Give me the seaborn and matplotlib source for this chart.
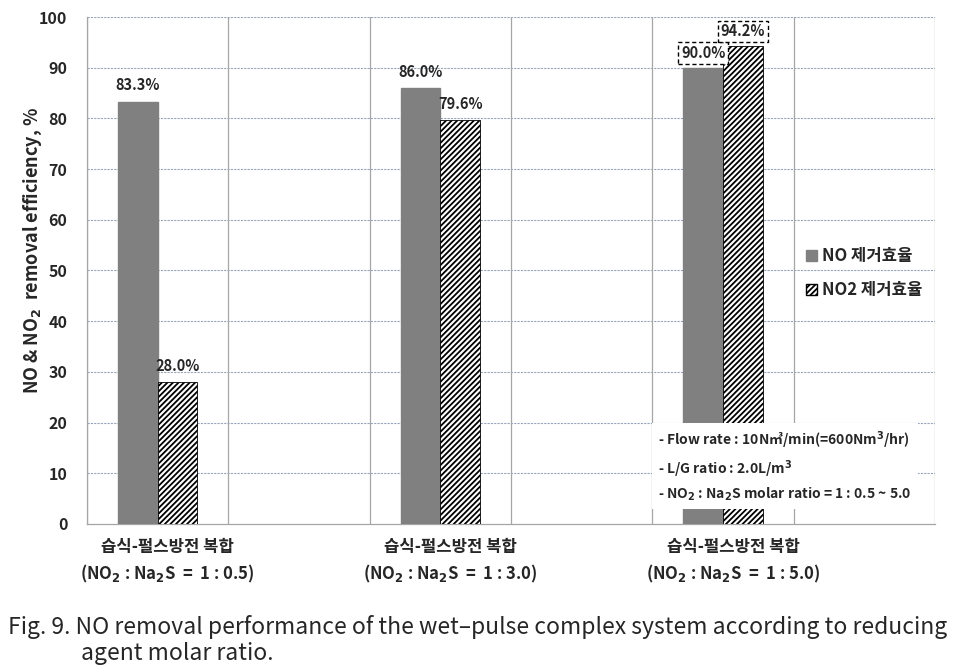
import pandas as pd
import matplotlib.pyplot as plt
import seaborn as sns
from matplotlib.patches import Patch
from matplotlib.transforms import ScaledTranslation

# data
conditions = ['습식-펄스방전 복합\n(NO$_2$ : Na$_2$S  =  1 : 0.5)',
              '습식-펄스방전 복합\n(NO$_2$ : Na$_2$S  =  1 : 3.0)',
              '습식-펄스방전 복합\n(NO$_2$ : Na$_2$S  =  1 : 5.0)']
series = ['NO 제거효율', 'NO2 제거효율']
no_eff = [83.3, 86.0, 90.0]
no2_eff = [28.0, 79.6, 94.2]
boxed_labels = [False, False, True]

KR = ['Noto Sans CJK KR', 'DejaVu Sans']


def make_frame():
    rows = []
    for cond, a, b in zip(conditions, no_eff, no2_eff):
        rows.append({'cond': cond, 'series': series[0], 'eff': a})
        rows.append({'cond': cond, 'series': series[1], 'eff': b})
    return pd.DataFrame(rows)


def plot_chart(df):
    sns.set_style('white')
    plt.rcParams['font.family'] = KR
    plt.rcParams['font.weight'] = 'bold'
    plt.rcParams['hatch.linewidth'] = 1.3

    fig = plt.figure(figsize=(9.63, 6.70), dpi=100)
    ax = fig.add_axes([0.0903, 0.218, 0.8806, 0.7566])

    sns.barplot(data=df, x='cond', y='eff', hue='series', hue_order=series,
                palette=['#808080', 'white'], width=0.28, dodge=True,
                saturation=1, errorbar=None, legend=False, ax=ax, zorder=3)

    # NO2 bars: white with diagonal hatch
    for bar in ax.containers[1]:
        bar.set_hatch('//////')
        bar.set_edgecolor('black')
        bar.set_linewidth(0.6)
    for bar in ax.containers[0]:
        bar.set_edgecolor('#808080')

    # value labels
    for cont, vals in zip(ax.containers, [no_eff, no2_eff]):
        for bar, v, boxed in zip(cont, vals, boxed_labels):
            bb = None
            if boxed:
                bb = dict(boxstyle='square,pad=0.2', fc='white', ec='black',
                          ls=(0, (3, 2)), lw=1.0)
            ax.annotate(f'{v:.1f}%', (bar.get_x() + bar.get_width() / 2, bar.get_height()),
                        xytext=(0, 5 if boxed else 6), textcoords='offset points',
                        ha='center', va='bottom', fontsize=10.5, fontweight='bold',
                        bbox=bb, zorder=5)

    ax.set_xlim(-0.25, 2.75)
    ax.set_ylim(0, 100)
    ax.set_yticks(range(0, 101, 10))
    ax.tick_params(axis='y', labelsize=11.5, length=0, pad=14)
    ax.tick_params(axis='x', labelsize=12, length=0, pad=10)
    for lab in ax.get_yticklabels() + ax.get_xticklabels():
        lab.set_fontweight('bold')
    # category labels sit a little right of the bar pair
    shift = ScaledTranslation(10 / 100, 0, fig.dpi_scale_trans)
    for lab in ax.get_xticklabels():
        lab.set_transform(lab.get_transform() + shift)
        lab.set_linespacing(1.45)

    # grid: dotted horizontal, solid vertical
    for y in range(10, 101, 10):
        ax.axhline(y, color='#98a6bc', lw=0.8, ls=(0, (2, 1)), zorder=1)
    for i in range(7):
        ax.axvline(-0.25 + 0.5 * i, color='#a6a6a6', lw=0.9, zorder=1)
    ax.set_xticks([0.75, 1.75], minor=True)
    ax.tick_params(axis='x', which='minor', length=5, color='#a6a6a6', width=0.9)

    for s in ['top', 'right']:
        ax.spines[s].set_visible(False)
    for s in ['left', 'bottom']:
        ax.spines[s].set_color('#a6a6a6')
        ax.spines[s].set_linewidth(0.9)

    ax.set_xlabel('')
    ax.set_ylabel('NO & NO$_2$  removal efficiency, %', fontsize=13, fontweight='bold')
    ax.yaxis.set_label_coords(-0.051, 0.54)

    handles = [Patch(facecolor='#808080', edgecolor='#808080'),
               Patch(facecolor='white', edgecolor='black', hatch='//////')]
    ax.legend(handles, series, loc='upper left', bbox_to_anchor=(0.83, 0.575),
              frameon=False, handlelength=0.7, handleheight=0.7,
              handletextpad=0.3, labelspacing=0.95, prop={'weight': 'bold', 'size': 12})

    info = ('- Flow rate : 10N㎥/min(=600Nm$^3$/hr)\n'
            '- L/G ratio : 2.0L/m$^3$\n'
            '- NO$_2$ : Na$_2$S molar ratio = 1 : 0.5 ~ 5.0')
    ax.text(1.77, 11.3, info, fontsize=10, fontweight='bold', va='center',
            ha='left', linespacing=1.45, zorder=6,
            bbox=dict(boxstyle='square,pad=0.45', fc='white', ec='none'))

    fig.text(0.008, 0.064, 'Fig. 9. NO removal performance of the wet\u2013pulse complex system '
             'according to reducing', fontsize=16.5, fontweight='normal', va='center',
             family=KR)
    fig.text(0.084, 0.024, 'agent molar ratio.', fontsize=16.5, fontweight='normal',
             va='center', family=KR)

    fig.savefig('out.png', dpi=100)


if __name__ == '__main__':
    plot_chart(make_frame())
